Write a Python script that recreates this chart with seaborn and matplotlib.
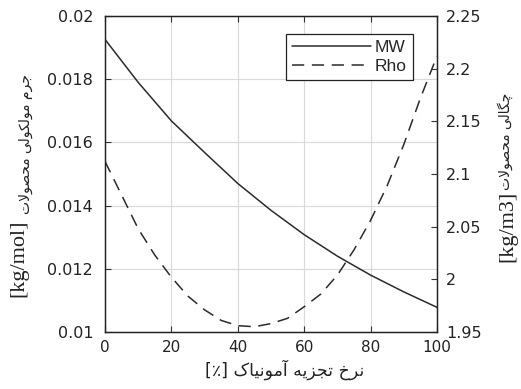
import numpy as np
import pandas as pd
import matplotlib
matplotlib.use("Agg")
import matplotlib.pyplot as plt
import seaborn as sns

# ---- data ----
x_mw = [0, 10, 20, 30, 40, 50, 60, 70, 80, 90, 100]
mw = [0.01926, 0.01790, 0.01668, 0.01568, 0.01470, 0.01385, 0.01308, 0.01240, 0.01180, 0.01127, 0.01078]

x_rho = [0, 5, 10, 15, 20, 25, 30, 35, 40, 45, 50, 55, 60, 65, 70, 75, 80, 85, 90, 95, 100]
rho = [2.112, 2.080, 2.048, 2.023, 2.002, 1.984, 1.971, 1.961, 1.956, 1.955, 1.958, 1.963,
       1.974, 1.986, 2.004, 2.028, 2.056, 2.089, 2.128, 2.172, 2.212]

x_ticks = [0, 20, 40, 60, 80, 100]
left_ticks = [0.01, 0.012, 0.014, 0.016, 0.018, 0.02]
left_ticklabels = ["0.01", "0.012", "0.014", "0.016", "0.018", "0.02"]
right_ticks = [1.95, 2.0, 2.05, 2.1, 2.15, 2.2, 2.25]
right_ticklabels = ["1.95", "2", "2.05", "2.1", "2.15", "2.2", "2.25"]

# Persian labels written in visual (shaped) order
w_nerkh = "\uFEA5\uFEAE\uFEE7"                       # نرخ
w_tajzie = "\uFEEA\uFEF3\uFEB0\uFEA0\uFE97"          # تجزیه
w_amonia = "\uFB8E\uFE8E\uFEF4\uFEE7\uFEEE\uFEE3\uFE81"  # آمونیاک
w_jerm = "\uFEE1\uFEAE\uFE9F"                        # جرم
w_molkoli = "\uFEF0\uFEDF\uFEEE\uFB91\uFEDF\uFEEE\uFEE3"  # مولکولی
w_mahsulat = "\uFE95\uFEFB\uFEEE\uFEBC\uFEA4\uFEE3"  # محصولات
w_chegali = "\uFEF0\uFEDF\uFE8E\uFB95\uFB7C"         # چگالی

xlabel = "[\u066A] " + w_amonia + " " + w_tajzie + " " + w_nerkh
ylabel_left_unit = "[kg/mol]"
ylabel_left_fa = w_mahsulat + " " + w_molkoli + " " + w_jerm
ylabel_right_unit = "[kg/m3]"
ylabel_right_fa = w_mahsulat + " " + w_chegali

series_names = ["MW", "Rho"]

df_mw = pd.DataFrame({"x": x_mw, "y": mw})
df_rho = pd.DataFrame({"x": x_rho, "y": rho})

sns.set_theme(style="ticks")
plt.rcParams["font.family"] = ["DejaVu Sans"]
plt.rcParams["xtick.direction"] = "in"
plt.rcParams["ytick.direction"] = "in"

W, H = 521, 389
fig = plt.figure(figsize=(W / 100, H / 100), dpi=100)
ax = fig.add_axes([105 / W, 1 - 332 / H, (437 - 105) / W, (332 - 16) / H])
ax2 = ax.twinx()

line_color = "#2b2b2b"
sns.lineplot(data=df_mw, x="x", y="y", ax=ax, color=line_color, linewidth=1.1,
             label=series_names[0], legend=False)
sns.lineplot(data=df_rho, x="x", y="y", ax=ax2, color=line_color, linewidth=1.1,
             linestyle=(0, (8, 5)), label=series_names[1], legend=False)

ax.set_xlim(0, 100)
ax.set_ylim(0.01, 0.02)
ax2.set_ylim(1.95, 2.25)
ax.set_xticks(x_ticks)
ax.set_xticklabels([str(t) for t in x_ticks])
ax.set_yticks(left_ticks)
ax.set_yticklabels(left_ticklabels)
ax2.set_yticks(right_ticks)
ax2.set_yticklabels(right_ticklabels)

ax.grid(True, color="#d9d9d9", linewidth=0.8)
ax.set_axisbelow(True)

for a in (ax, ax2):
    for s in a.spines.values():
        s.set_color("#222222")
        s.set_linewidth(0.9)
    a.tick_params(axis="both", color="#333333", labelcolor="#222222", length=4,
                  width=0.8, direction="in")
ax.tick_params(axis="x", top=True, pad=6, labelsize=11)
ax.tick_params(axis="y", pad=8.5, labelsize=11.5)
ax2.tick_params(axis="y", pad=6.5, labelsize=11.5)

# x label
ax.set_xlabel(xlabel, fontsize=12.5, color="#222222")
ax.xaxis.set_label_coords((284.5 - 105) / 332, (332 - 359) / 316)

# y labels built from a Latin unit part (serif) and a Persian part
ax.set_ylabel("")
ax2.set_ylabel("")
fig.text(19 / W, 1 - 258 / H, ylabel_left_unit, rotation=90, ha="center", va="center",
         fontsize=16, family=["Liberation Serif"], color="#222222")
fig.text(26 / W, 1 - 214 / H, ylabel_left_fa, rotation=90, ha="center", va="bottom",
         fontsize=10, family=["DejaVu Sans"], color="#222222")
fig.text(508 / W, 1 - 226 / H, ylabel_right_unit, rotation=90, ha="center", va="center",
         fontsize=16, family=["Liberation Serif"], color="#222222")
fig.text(505 / W, 1 - 190 / H, ylabel_right_fa, rotation=90, ha="center", va="bottom",
         fontsize=10, family=["DejaVu Sans"], color="#222222")

h1, l1 = ax.get_legend_handles_labels()
h2, l2 = ax2.get_legend_handles_labels()
leg = ax2.legend(h1 + h2, l1 + l2, loc="upper right",
                 bbox_to_anchor=((413 - 105) / 332, (332 - 34) / 316),
                 prop={"family": "Liberation Sans", "size": 12.5}, frameon=True,
                 fancybox=False, handlelength=4.6, borderpad=0.35, labelspacing=0.2,
                 handletextpad=0.2, borderaxespad=0)
leg.get_frame().set_edgecolor("#222222")
leg.get_frame().set_linewidth(0.9)
leg.get_frame().set_alpha(1)

fig.savefig("out.png", dpi=100)
